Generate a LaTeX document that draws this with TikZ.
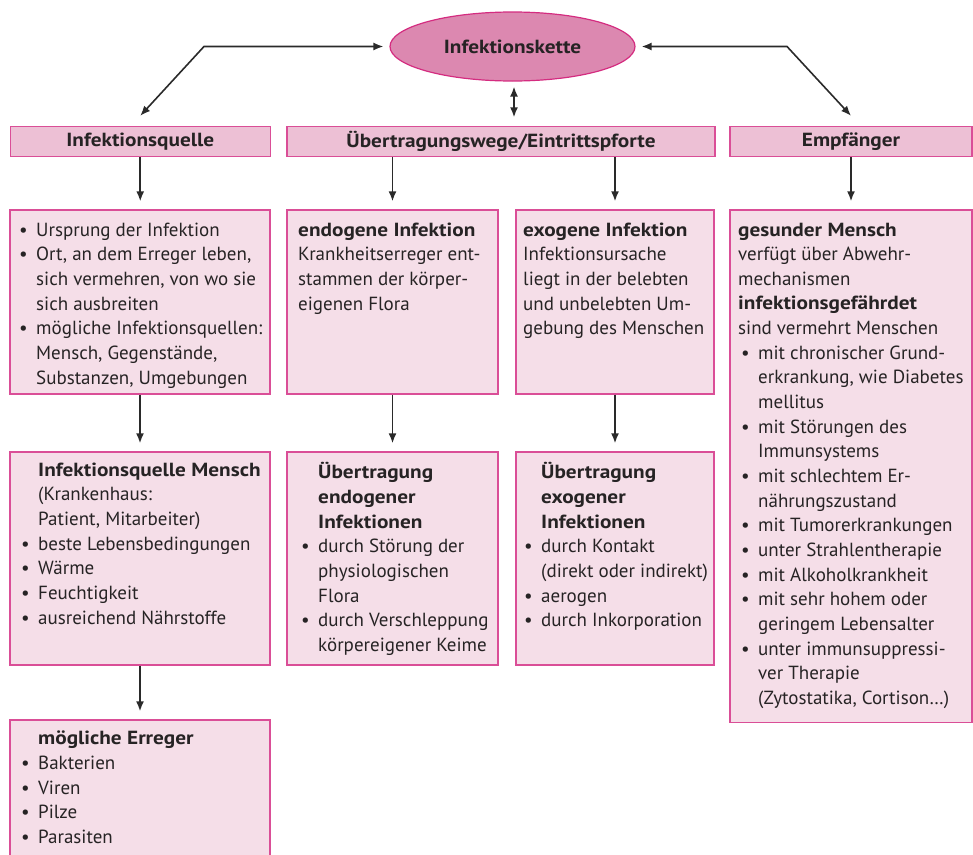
\documentclass[tikz,border=0pt]{standalone}
\usepackage{fontspec}
\setmainfont{PT Sans}[BoldFeatures={FakeStretch=1.12}]
\usetikzlibrary{arrows.meta,shapes.geometric}
\definecolor{boxfill}{HTML}{F5DEE8}
\definecolor{headfill}{HTML}{EDC0D5}
\definecolor{bordc}{HTML}{DA4E97}
\definecolor{ellfill}{HTML}{DC88B0}
\definecolor{ellbord}{HTML}{D42C80}
\definecolor{txtc}{HTML}{262324}
\definecolor{arrc}{HTML}{2A2A2A}
\newcommand{\bu}{\makebox[17pt][l]{•}}
\newcommand{\ii}{\hspace*{17pt}}
\newcommand{\bd}{\makebox[20pt][l]{\hspace{3pt}•}}
\newcommand{\id}{\hspace*{20pt}}
\begin{document}
\begin{tikzpicture}[x=1pt,y=-1pt,
  every node/.style={text=txtc},
  box/.style={draw=bordc, fill=boxfill, line width=1.4pt, inner sep=0pt},
  head/.style={draw=bordc, fill=headfill, line width=1.4pt, inner sep=0pt,
    font=\fontsize{19}{22}\selectfont\bfseries},
  txt/.style={inner sep=0pt, align=left, anchor=north west,
    font=\fontsize{19}{24.65}\selectfont, execute at begin node=\strut},
  conn/.style={draw=arrc, line width=1.6pt, -{Latex[length=10pt,width=8pt]}, shorten >=8pt},
  dconn/.style={draw=arrc, line width=1.6pt, {Latex[length=10pt,width=8pt]}-{Latex[length=10pt,width=8pt]}},
]
\useasboundingbox (0,0) rectangle (973,854);

% ellipse
\node[ellipse, draw=ellbord, fill=ellfill, line width=1.2pt, minimum width=245pt, minimum height=69pt,
  inner sep=0pt, font=\fontsize{19}{22}\selectfont\bfseries] (ell) at (512.5,46.5) {Infektionskette};

% headers
\node[head, minimum width=260pt, minimum height=30pt] (h1) at (140.25,141.5) {Infektionsquelle};
\node[head, minimum width=428pt, minimum height=30pt] (h2) at (501,141.5) {Übertragungswege/Eintrittspforte};
\node[head, minimum width=242pt, minimum height=30pt] (h3) at (851,141.5) {Empfänger};

% row 2 boxes
\node[box, minimum width=260pt, minimum height=184pt] (a1) at (140,302) {};
\node[box, minimum width=211pt, minimum height=184pt] (b1) at (392.5,302) {};
\node[box, minimum width=198pt, minimum height=184pt] (c1) at (615,302) {};
\node[box, minimum width=242pt, minimum height=512.5pt] (d) at (851,466.25) {};

% row 3 boxes
\node[box, minimum width=260pt, minimum height=213pt] (a2) at (140,558.5) {};
\node[box, minimum width=211pt, minimum height=213pt] (b2) at (392.5,558.5) {};
\node[box, minimum width=198pt, minimum height=213pt] (c2) at (615,558.5) {};

% row 4 box
\node[box, minimum width=260pt, minimum height=150pt] (a3) at (140,795) {};

% texts
\node[txt] (a1t) at (19,222.5) {%
\bu Ursprung der Infektion\\
\bu Ort, an dem Erreger leben,\\
\ii sich vermehren, von wo sie\\
\ii sich ausbreiten\\
\bu mögliche Infektionsquellen:\\
\ii Mensch, Gegenstände,\\
\ii Substanzen, Umgebungen};

\node[txt] (b1t) at (298,222.5) {%
\textbf{endogene Infektion}\\
Krankheitserreger ent-\\
stammen der körper-\\
eigenen Flora};

\node[txt] (c1t) at (523,222.5) {%
\textbf{exogene Infektion}\\
Infektionsursache\\
liegt in der belebten\\
und unbelebten Um-\\
gebung des Menschen};

\node[txt] (dt) at (738,222.5) {%
\textbf{gesunder Mensch}\\
verfügt über Abwehr-\\
mechanismen\\
\textbf{infektionsgefährdet}\\
sind vermehrt Menschen\\
\bd mit chronischer Grund-\\
\id erkrankung, wie Diabetes\\
\id mellitus\\
\bd mit Störungen des\\
\id Immunsystems\\
\bd mit schlechtem Er-\\
\id nährungszustand\\
\bd mit Tumorerkrankungen\\
\bd unter Strahlentherapie\\
\bd mit Alkoholkrankheit\\
\bd mit sehr hohem oder\\
\id geringem Lebensalter\\
\bd unter immunsuppressi-\\
\id ver Therapie\\
\id (Zytostatika, Cortison…)};

\node[txt] (a2t) at (21,462.5) {%
\ii\textbf{Infektionsquelle Mensch}\\
\ii (Krankenhaus:\\
\ii Patient, Mitarbeiter)\\
\bu beste Lebensbedingungen\\
\bu Wärme\\
\bu Feuchtigkeit\\
\bu ausreichend Nährstoffe};

\node[txt] (b2t) at (301,462.5) {%
\ii\textbf{Übertragung}\\
\ii\textbf{endogener}\\
\ii\textbf{Infektionen}\\
\bu durch Störung der\\
\ii physiologischen\\
\ii Flora\\
\bu durch Verschleppung\\
\ii körpereigener Keime};

\node[txt] (c2t) at (524,462.5) {%
\ii\textbf{Übertragung}\\
\ii\textbf{exogener}\\
\ii\textbf{Infektionen}\\
\bu durch Kontakt\\
\ii (direkt oder indirekt)\\
\bu aerogen\\
\bu durch Inkorporation};

\node[txt] (a3t) at (21,731) {%
\ii\textbf{mögliche Erreger}\\
\bu Bakterien\\
\bu Viren\\
\bu Pilze\\
\bu Parasiten};

% connectors
\coordinate (lc) at (204,46.5);
\coordinate (rc) at (787,46.5);
\draw[dconn, shorten <=6pt] (ell.west) -- (lc) -- ([yshift=10pt]h1.north);
\draw[dconn, shorten <=6pt] (ell.east) -- (rc) -- ([yshift=10pt]h3.north);
\draw[dconn, shorten <=5pt, shorten >=8.5pt] ([xshift=1.5pt]ell.south) -- ([xshift=1.5pt]ell.south |- h2.north);

\draw[conn] (h1.south) -- (h1.south |- a1.north);
\draw[conn] (h2.south -| b1.north) -- (b1.north);
\draw[conn] (h2.south -| c1.north) -- (c1.north);
\draw[conn] (h3.south -| d.north) -- (d.north);
\draw[conn] (a1.south) -- (a2.north);
\draw[conn] (b1.south) -- (b2.north);
\draw[conn] (c1.south) -- (c2.north);
\draw[conn] (a2.south) -- (a3.north);
\end{tikzpicture}
\end{document}
